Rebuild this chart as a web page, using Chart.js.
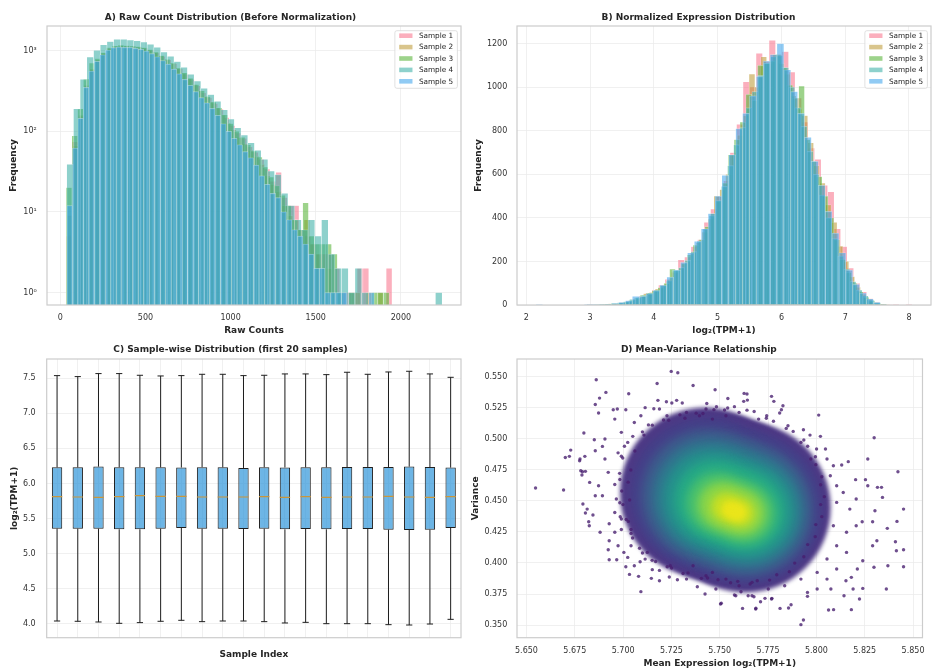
<!DOCTYPE html>
<html>
<head>
<meta charset="utf-8">
<script src="https://cdn.jsdelivr.net/npm/chart.js@4.4.0/dist/chart.umd.min.js"></script>
<style>
  html, body { margin: 0; padding: 0; background: #fff; width: 933px; height: 668px; overflow: hidden; }
  canvas { position: absolute; }
</style>
</head>
<body>
<canvas id="panelA" style="left:0;top:0" width="466" height="340"></canvas>
<canvas id="panelB" style="left:466px;top:0" width="467" height="340"></canvas>
<canvas id="panelC" style="left:0;top:335px" width="466" height="333"></canvas>
<canvas id="panelD" style="left:466px;top:335px" width="467" height="333"></canvas>
<script>
// --- Data ---
const sampleLabels = ['Sample 1', 'Sample 2', 'Sample 3', 'Sample 4', 'Sample 5'];
const sampleFill = ['rgba(247,113,137,0.56)', 'rgba(187,152,50,0.56)', 'rgba(80,177,49,0.56)',
                    'rgba(54,173,164,0.56)', 'rgba(59,163,236,0.56)'];

// A) raw counts, 56 bins per sample (bin start + width per sample)
const rawBinStart = [36, 40, 34, 38, 39];
const rawBinWidth = [34.14, 33.13, 33.89, 39.36, 32.23];
const rawCounts1 = [5,74,150,360,580,770,930,1070,1120,1150,1140,1150,1110,1080,1020,950,850,770,690,600,
  510,440,365,300,262,220,188,148,118,95,82,64,55,45,34,24,31,15,12,12,6,5,4,3,3,3,2,1,1,1,2,2,0,0,0,2];
const rawCounts2 = [9,66,158,372,590,765,925,1060,1130,1150,1140,1130,1110,1080,1020,950,860,770,690,600,
  525,450,380,320,272,232,196,160,126,104,85,70,58,49,39,28,22,18,12,9,8,6,8,4,3,2,2,1,1,0,0,1,0,1,0,1];
const rawCounts3 = [20,88,190,445,700,800,950,1090,1150,1170,1160,1140,1120,1090,1030,960,870,780,700,610,
  530,455,380,318,270,230,195,160,125,100,84,68,57,48,36,27,21,16,12,8,6,13,5,4,4,4,3,1,0,1,0,0,0,1,1,1];
const rawCounts4 = [39,190,440,830,1010,1180,1300,1380,1380,1350,1320,1280,1200,1100,960,850,730,620,510,420,
  340,285,235,185,142,110,90,72,58,45,32,29,17,12,8,6,8,5,8,3,2,2,1,2,1,0,0,0,0,0,0,0,0,0,0,1];
const rawCounts5 = [12,62,145,350,560,740,890,1020,1090,1110,1100,1100,1070,1040,990,920,840,755,680,590,
  515,440,372,310,262,225,192,158,124,100,82,68,56,47,38,28,22,17,15,10,8,6,5,4,3,2,2,1,1,1,1,0,0,0,0,1];
const rawXTicks = [0, 500, 1000, 1500, 2000];
const rawYTicks = [1, 10, 100, 1000];

// B) log2(TPM+1), 50 bins per sample
const normBinStart = [2.95, 3.10, 3.05, 2.85, 2.15];
const normBinWidth = [0.102, 0.092, 0.092, 0.096, 0.108];
const normCounts1 = [1,2,3,5,8,12,18,28,42,55,68,92,118,150,207,220,268,300,380,440,
  500,570,700,830,1025,1000,1155,1120,1215,1150,1163,1070,950,840,720,669,550,520,350,268,
  170,100,60,30,15,5,2,1,0,1];
const normCounts2 = [2,4,6,8,11,16,24,36,52,58,74,90,115,150,170,200,240,285,335,395,
  500,530,600,690,780,870,1060,1000,1140,1110,1150,1110,1060,960,900,870,745,640,560,460,
  380,270,200,130,82,48,26,12,5,2];
const normCounts3 = [2,3,5,8,10,15,22,32,45,55,66,80,100,165,160,190,230,275,300,360,
  420,480,560,690,760,840,967,940,1100,1110,1120,1150,1090,1010,950,1005,760,660,590,500,
  400,300,210,150,100,60,35,18,8,3];
const normCounts4 = [0,1,2,3,5,8,11,16,26,34,44,56,70,88,112,160,172,205,245,295,
  350,410,478,545,640,735,815,905,980,1055,1110,1140,1145,1090,1000,905,820,705,600,505,
  400,305,225,165,108,68,42,23,11,4];
const normCounts5 = [1,0,0,0,0,0,0,1,1,3,5,8,12,20,40,40,52,66,92,128,
  160,196,240,292,350,420,500,595,690,810,880,960,1050,1120,1150,1200,1080,980,880,770,
  660,550,430,330,240,160,95,55,28,12];
const normXTicks = [2, 3, 4, 5, 6, 7, 8];
const normYTicks = [0, 200, 400, 600, 800, 1000, 1200];

// C) box statistics for the first 20 samples
const boxIndex = [1,2,3,4,5,6,7,8,9,10,11,12,13,14,15,16,17,18,19,20];
const boxLow = [4.038,4.034,4.024,4.005,4.015,4.034,4.048,4.029,4.038,4.038,4.029,4.010,4.019,4.000,4.000,4.000,3.986,3.981,3.995,4.062];
const boxQ1 = [5.355,5.355,5.355,5.346,5.346,5.355,5.365,5.355,5.355,5.350,5.355,5.346,5.350,5.346,5.350,5.350,5.341,5.336,5.341,5.365];
const boxMedian = [5.812,5.807,5.802,5.812,5.826,5.816,5.816,5.807,5.807,5.807,5.812,5.802,5.812,5.802,5.807,5.807,5.816,5.807,5.802,5.812];
const boxQ3 = [6.230,6.230,6.240,6.232,6.232,6.230,6.228,6.232,6.230,6.221,6.232,6.228,6.230,6.230,6.235,6.235,6.235,6.240,6.235,6.226];
const boxHigh = [7.538,7.524,7.567,7.567,7.543,7.533,7.538,7.557,7.557,7.538,7.543,7.562,7.562,7.552,7.586,7.557,7.590,7.600,7.562,7.514];
const boxYTicks = [4.0, 4.5, 5.0, 5.5, 6.0, 6.5, 7.0, 7.5];

// D) mean vs variance: individual genes in the sparse rim
const mvPoints = [
  [5.7249,0.5543],[5.7283,0.5532],[5.6861,0.5476],[5.7176,0.5446],[5.7362,0.5430],[5.7476,0.5395],[5.6911,0.5374],
  [5.7029,0.5363],[5.6878,0.5328],[5.6856,0.5277],[5.6873,0.5208],[5.6949,0.5234],[5.6970,0.5240],[5.7014,0.5234],
  [5.7180,0.5310],[5.7224,0.5299],[5.7252,0.5288],[5.7277,0.5310],[5.7306,0.5288],[5.7114,0.5251],[5.7159,0.5242],
  [5.7188,0.5240],[5.6797,0.5047],[5.6851,0.4993],[5.6729,0.4909],[5.6701,0.4850],[5.6722,0.4859],[5.6777,0.4837],
  [5.6802,0.4859],[5.6781,0.4743],[5.6805,0.4738],[5.6827,0.4649],[5.6547,0.4604],[5.6692,0.4588],[5.6792,0.4475],
  [5.6814,0.4434],[5.6822,0.4332],[5.6825,0.4300],[5.6805,0.4402],[5.6844,0.4386],[5.6928,0.4316],[5.6928,0.4179],
  [5.6923,0.4107],[5.6928,0.4026],[5.6967,0.4026],[5.7004,0.4085],[5.7033,0.3908],[5.7080,0.3892],[5.7092,0.3769],
  [5.7088,0.4010],[5.7114,0.4031],[5.7151,0.3946],[5.7188,0.3940],[5.7146,0.3876],[5.7188,0.3857],[5.7239,0.3887],
  [5.7244,0.3978],[5.7281,0.3865],[5.7328,0.3870],[5.7384,0.3809],[5.7424,0.3750],[5.7480,0.3790],[5.7504,0.3669],
  [5.6856,0.4904],[5.6893,0.4939],[5.6906,0.4837],[5.6873,0.4622],[5.6893,0.4542],[5.6856,0.4542],[5.6881,0.4247],
  [5.6957,0.4247],[5.6906,0.4998],[5.6991,0.5052],[5.6957,0.5159],[5.7058,0.5132],[5.6923,0.4730],[5.6965,0.4515],
  [5.6957,0.4407],[5.6991,0.4354],[5.6974,0.4139],[5.7041,0.4139],[5.7024,0.4045],[5.7058,0.3978],[5.7125,0.4085],
  [5.7362,0.3978],[5.7429,0.3897],[5.7462,0.3924],[5.7092,0.5186],[5.7227,0.5186],[5.7328,0.5213],[5.7395,0.5186],
  [5.7429,0.5240],[5.7462,0.5159],[5.7007,0.4940],[5.6991,0.4860],[5.6983,0.4672],[5.6974,0.4887],[5.6957,0.4632],
  [5.6983,0.4485],[5.7016,0.4350],[5.6991,0.4270],[5.7041,0.4270],[5.6775,0.4823],[5.6790,0.4735],[5.6787,0.4708],
  [5.7014,0.3970],[5.7433,0.5285],[5.7483,0.5258],[5.7525,0.5232],[5.7626,0.5366],[5.7643,0.5312],[5.7542,0.5325],
  [5.7576,0.3742],[5.7610,0.3768],[5.7677,0.3728],[5.7711,0.3688],[5.7508,0.3675],[5.7618,0.3634],[5.7686,0.3629],
  [5.7812,0.3634],[5.7770,0.3715],
  [5.7641,0.5361],[5.7624,0.5302],[5.7768,0.5342],[5.7780,0.5302],[5.7827,0.5267],[5.7819,0.5234],[5.7810,0.5208],
  [5.7743,0.5186],[5.8012,0.5191],[5.7933,0.5073],[5.8021,0.5020],[5.8299,0.5009],[5.7967,0.5030],[5.8266,0.4837],
  [5.8165,0.4816],[5.8131,0.4789],[5.8422,0.4735],[5.8001,0.4918],[5.8047,0.4918],[5.8203,0.4671],[5.8254,0.4671],
  [5.8266,0.4622],[5.8316,0.4609],[5.8337,0.4609],[5.8342,0.4528],[5.8451,0.4434],[5.8417,0.4335],[5.8303,0.4421],
  [5.8291,0.4332],[5.8237,0.4332],[5.8367,0.4279],[5.8409,0.4171],[5.8451,0.4107],[5.8414,0.4099],[5.8313,0.4179],
  [5.8291,0.4139],[5.8298,0.3965],[5.8370,0.3978],[5.8451,0.3970],[5.8240,0.4018],[5.8212,0.3951],[5.8181,0.3884],
  [5.8240,0.3795],[5.8362,0.3790],[5.8223,0.3710],[5.8181,0.3624],[5.8063,0.3621],[5.8089,0.3624],[5.7933,0.3541],
  [5.7920,0.3503],[5.7869,0.3664],[5.7856,0.3637],[5.7768,0.3710],[5.7734,0.3715],[5.7687,0.3635],[5.7583,0.3736],
  [5.7647,0.3736],[5.7667,0.3736],[5.7954,0.3763],[5.8004,0.3790],[5.7954,0.3731],[5.8143,0.3736],[5.8075,0.3790],
  [5.8055,0.3870],[5.8153,0.3857],[5.8190,0.3790],
  [5.8088,0.4783],[5.8072,0.4703],[5.8139,0.4568],[5.8105,0.4488],[5.8173,0.4434],[5.8206,0.4515],[5.8156,0.4247],
  [5.8206,0.4300],[5.8105,0.4139],[5.8156,0.4085],[5.8055,0.4032],[5.8105,0.3951],[5.8004,0.3924],[5.7920,0.3870],
  [5.7836,0.3817],[5.7751,0.3790],[5.7667,0.3844],[5.7600,0.3817],[5.7532,0.3870],[5.8055,0.4837],[5.7971,0.4837],
  [5.7920,0.4971],[5.7853,0.5105],[5.7701,0.5159],[5.7600,0.5213],[5.7532,0.5186],[5.8105,0.4622],[5.8088,0.4300],
  // fringe of the dense cloud, left side
  [5.7024,0.4971],[5.7061,0.4902],[5.6998,0.4846],[5.7040,0.4749],[5.6982,0.4722],[5.7026,0.4651],[5.6993,0.4580],
  [5.7034,0.4507],[5.6999,0.4470],[5.6985,0.4372],[5.7027,0.4335],[5.7041,0.4238],[5.7049,0.4201],[5.7085,0.4118],
  [5.7100,0.4080],[5.7150,0.4021],[5.7168,0.4012],[5.7228,0.3969],[5.7251,0.3960],[5.7310,0.3915],[5.7336,0.3920],
  [5.7405,0.3876],[5.7437,0.3879],[5.7100,0.5056],[5.7131,0.5112],[5.7151,0.5110],[5.7209,0.5152],[5.7236,0.5150],
  [5.7294,0.5193],[5.7320,0.5166],[5.7378,0.5207],[5.7413,0.5204],[5.7470,0.5235],[5.7050,0.5020],[5.7108,0.5030],
  // fringe of the dense cloud, right side
  [5.7541,0.5248],[5.7576,0.5259],[5.7641,0.5231],[5.7678,0.5220],[5.7741,0.5166],[5.7778,0.5141],[5.7844,0.5084],
  [5.7880,0.5060],[5.7935,0.4990],[5.7955,0.4940],[5.7995,0.4856],[5.7997,0.4792],[5.8028,0.4695],[5.8022,0.4630],
  [5.8041,0.4534],[5.8022,0.4470],[5.8028,0.4373],[5.7997,0.4309],[5.7994,0.4212],[5.7955,0.4148],[5.7935,0.4050],
  [5.7888,0.3999],[5.7860,0.3930],[5.7795,0.3905],[5.7758,0.3862],[5.7694,0.3857],[5.7657,0.3830],[5.7593,0.3852],
  [5.7556,0.3841],[5.7491,0.3865]
];
// D) dense core, one group of centres per density level (outer -> inner)
const coreX = [
  [5.7424,5.7529,5.7634],[5.7429,5.7534,5.7639],[5.7439,5.7539,5.7639],[5.7449,5.7544,5.7639],[5.7458,5.7549,5.7640],
  [5.7473,5.7554,5.7635],[5.7488,5.7559,5.7630],[5.7507,5.7564,5.7621],[5.7526,5.7569,5.7612],[5.7550,5.7574,5.7598]
];
const coreY = [
  [0.4567,0.4507,0.4447],[0.4559,0.4499,0.4439],[0.4541,0.4483,0.4425],[0.4530,0.4475,0.4420],[0.4519,0.4467,0.4415],
  [0.4506,0.4459,0.4412],[0.4484,0.4443,0.4402],[0.4468,0.4435,0.4402],[0.4452,0.4427,0.4402],[0.4433,0.4419,0.4405]
];
const mvXTicks = [5.650, 5.675, 5.700, 5.725, 5.750, 5.775, 5.800, 5.825, 5.850];
const mvYTicks = [0.350, 0.375, 0.400, 0.425, 0.450, 0.475, 0.500, 0.525, 0.550];

// --- Styles ---
const coreColors = ['#4d3985','#453f88','#3d5a8c','#30758e','#25908c','#26a985','#48c06e','#86d44a','#c5df25','#eae51a'];
const coreRadius = [85, 76, 67, 58, 49, 40, 31, 23, 14, 8];
const coreBlur = [2, 3, 4, 4, 4, 4, 4, 4, 4, 3];
const GRID = '#ececec';
const INK = '#262626';
const TICK = '#333333';

Chart.defaults.font.family = '"DejaVu Sans", sans-serif';
Chart.defaults.font.size = 8;
Chart.defaults.color = TICK;
Chart.defaults.animation = false;

// frame round the plot area (spines)
const framePlugin = {
  id: 'frame',
  afterDatasetsDraw(chart) {
    const { ctx, chartArea: a } = chart;
    ctx.save();
    ctx.strokeStyle = '#cccccc';
    ctx.lineWidth = 1.2;
    ctx.strokeRect(a.left, a.top, a.right - a.left, a.bottom - a.top);
    ctx.restore();
  }
};

// legend drawn inside the upper right corner, like matplotlib's 'best'
const insideLegend = {
  id: 'insideLegend',
  afterDraw(chart) {
    const { ctx, chartArea } = chart;
    const sets = chart.data.datasets;
    ctx.save();
    ctx.font = '7.3px "DejaVu Sans"';
    const textW = Math.max(...sets.map(d => ctx.measureText(d.label).width));
    const w = 24 + textW + 4.2;
    const h = 57.6;
    const x0 = chartArea.right - 3.6 - w;
    const y0 = chartArea.top + 4.7;
    ctx.fillStyle = 'rgba(255,255,255,0.8)';
    ctx.strokeStyle = '#d8d8d8';
    ctx.lineWidth = 0.8;
    ctx.beginPath();
    ctx.roundRect(x0, y0, w, h, 2);
    ctx.fill();
    ctx.stroke();
    sets.forEach((d, i) => {
      const cy = y0 + 5 + i * 11.4;
      ctx.fillStyle = d.backgroundColor;
      ctx.fillRect(x0 + 4.3, cy - 2.3, 13.3, 4.6);
      ctx.fillStyle = INK;
      ctx.textBaseline = 'middle';
      ctx.fillText(d.label, x0 + 24, cy + 0.4);
    });
    ctx.restore();
  }
};

// soft edges for the density levels of panel D
const blurPlugin = {
  id: 'levelBlur',
  beforeDatasetDraw(chart, args) {
    const ds = chart.data.datasets[args.index];
    if (ds.blur) { chart.ctx.save(); chart.ctx.filter = 'blur(' + ds.blur + 'px)'; }
  },
  afterDatasetDraw(chart, args) {
    const ds = chart.data.datasets[args.index];
    if (ds.blur) chart.ctx.restore();
  }
};

function titleOpts(text, top, bottom) {
  return { display: true, text, color: INK, font: { size: 9, weight: 'bold', lineHeight: 1.2 }, padding: { top, bottom } };
}

function xAxis(o) {
  return {
    type: o.type || 'linear', min: o.min, max: o.max, offset: false,
    grid: { color: GRID, lineWidth: 0.8, drawTicks: false, offset: false },
    border: { display: false },
    ticks: { display: o.showTicks !== false, padding: 8.5, color: TICK, font: { size: 8 }, maxRotation: 0, autoSkip: false, callback: o.fmt },
    afterBuildTicks: s => { s.ticks = o.ticks.map(v => ({ value: v })); },
    afterFit: s => { s.height = o.height; },
    title: { display: true, text: o.title, color: INK, font: { size: 9, weight: 'bold', lineHeight: o.titleLH || 1.2 }, padding: { top: 0, bottom: o.titlePad } }
  };
}

function yAxis(o) {
  return {
    type: o.type || 'linear', min: o.min, max: o.max,
    grid: { color: GRID, lineWidth: 0.8, drawTicks: false },
    border: { display: false },
    ticks: { padding: o.pad, color: TICK, font: { size: 8 }, autoSkip: false, callback: o.fmt },
    afterBuildTicks: s => { s.ticks = o.ticks.map(v => ({ value: v })); },
    afterFit: s => { s.width = o.width; },
    title: { display: true, text: o.title, color: INK, font: { size: 9, weight: 'bold', lineHeight: 1.2 }, padding: { top: o.titlePad, bottom: 0 } }
  };
}

function histDatasets(starts, widths, counts) {
  return counts.map((c, i) => ({
    label: sampleLabels[i],
    data: c.map((n, k) => ({ x: starts[i] + widths[i] * (k + 0.5), y: n > 0 ? n : null })),
    xAxisID: i === 0 ? 'x' : 'x' + i,
    backgroundColor: sampleFill[i],
    borderColor: 'rgba(255,255,255,0.45)',
    borderWidth: 0.5,
    barPercentage: 1,
    categoryPercentage: 1,
    grouped: false,
    order: counts.length - i
  }));
}

function hiddenX(min, max) {
  return { type: 'linear', display: false, min, max, offset: false };
}

const superDigits = ['\u2070', '\u00b9', '\u00b2', '\u00b3', '\u2074'];

function baseOptions(padRight, title) {
  return {
    responsive: false, devicePixelRatio: 1,
    layout: { autoPadding: false, padding: { left: 0, right: padRight, top: 0, bottom: 0 } },
    plugins: { legend: { display: false }, tooltip: { enabled: false }, title }
  };
}

// --- Panel A ---
new Chart(document.getElementById('panelA'), {
  type: 'bar',
  data: { datasets: histDatasets(rawBinStart, rawBinWidth, [rawCounts1, rawCounts2, rawCounts3, rawCounts4, rawCounts5]) },
  options: {
    ...baseOptions(5, titleOpts('A) Raw Count Distribution (Before Normalization)', 11.9, 3.3)),
    scales: {
      x: xAxis({ min: -78, max: 2353, ticks: rawXTicks, height: 35, title: 'Raw Counts', titlePad: 3.6, fmt: v => String(v) }),
      x1: hiddenX(-78, 2353), x2: hiddenX(-78, 2353), x3: hiddenX(-78, 2353), x4: hiddenX(-78, 2353),
      y: yAxis({ type: 'logarithmic', min: 0.7, max: 2023, ticks: rawYTicks, width: 47, pad: 10.3, title: 'Frequency', titlePad: 8.6,
        fmt: v => '10' + superDigits[Math.round(Math.log10(v))] })
    }
  },
  plugins: [framePlugin, insideLegend]
});

// --- Panel B ---
new Chart(document.getElementById('panelB'), {
  type: 'bar',
  data: { datasets: histDatasets(normBinStart, normBinWidth, [normCounts1, normCounts2, normCounts3, normCounts4, normCounts5]) },
  options: {
    ...baseOptions(2, titleOpts('B) Normalized Expression Distribution', 11.9, 3.3)),
    scales: {
      x: xAxis({ min: 1.854, max: 8.345, ticks: normXTicks, height: 35, title: 'log\u2082(TPM+1)', titlePad: 3.6, fmt: v => String(v) }),
      x1: hiddenX(1.854, 8.345), x2: hiddenX(1.854, 8.345), x3: hiddenX(1.854, 8.345), x4: hiddenX(1.854, 8.345),
      y: yAxis({ min: 0, max: 1281, ticks: normYTicks, width: 51, pad: 9.7, title: 'Frequency', titlePad: 6.9, fmt: v => String(v) })
    }
  },
  plugins: [framePlugin, insideLegend]
});

// --- Panel C ---
const whiskerSegs = [], capSegs = [], medianSegs = [];
boxIndex.forEach((x, i) => {
  whiskerSegs.push({ x, y: boxLow[i] }, { x, y: boxQ1[i] }, { x, y: null }, { x, y: boxQ3[i] }, { x, y: boxHigh[i] }, { x, y: null });
  capSegs.push({ x: x - 0.15, y: boxLow[i] }, { x: x + 0.15, y: boxLow[i] }, { x, y: null },
               { x: x - 0.15, y: boxHigh[i] }, { x: x + 0.15, y: boxHigh[i] }, { x, y: null });
  medianSegs.push({ x: x - 0.25, y: boxMedian[i] }, { x: x + 0.25, y: boxMedian[i] }, { x, y: null });
});

new Chart(document.getElementById('panelC'), {
  type: 'bar',
  data: {
    datasets: [
      { type: 'line', data: medianSegs, borderColor: '#c9963c', borderWidth: 1.2, pointRadius: 0, order: 0 },
      { type: 'bar', data: boxIndex.map((x, i) => ({ x, y: [boxQ1[i], boxQ3[i]] })),
        backgroundColor: 'rgba(52,152,219,0.72)', borderColor: '#1e1e1e', borderWidth: 1, borderSkipped: false,
        barPercentage: 0.5, categoryPercentage: 1, order: 1 },
      { type: 'line', data: whiskerSegs, borderColor: '#1e1e1e', borderWidth: 1, pointRadius: 0, order: 2 },
      { type: 'line', data: capSegs, borderColor: '#1e1e1e', borderWidth: 1, pointRadius: 0, order: 2 }
    ]
  },
  options: {
    ...baseOptions(5, titleOpts('C) Sample-wise Distribution (first 20 samples)', 9.6, 3.6)),
    scales: {
      x: xAxis({ min: 0.5, max: 20.5, ticks: boxIndex, height: 30.3, title: 'Sample Index', titlePad: 7.6, showTicks: false }),
      y: yAxis({ min: 3.80, max: 7.775, ticks: boxYTicks, width: 46.7, pad: 11, title: 'log\u2082(TPM+1)', titlePad: 9.6, fmt: v => v.toFixed(1) })
    }
  },
  plugins: [framePlugin]
});

// --- Panel D ---
const coreSets = coreX.map((xs, l) => ({
  data: xs.map((x, i) => ({ x, y: coreY[l][i] })),
  pointRadius: coreRadius[l],
  backgroundColor: coreColors[l],
  borderWidth: 0,
  blur: coreBlur[l],
  order: 20 - l
}));

new Chart(document.getElementById('panelD'), {
  type: 'scatter',
  data: {
    datasets: [
      { data: mvPoints.map(p => ({ x: p[0], y: p[1] })), pointRadius: 1.7,
        backgroundColor: 'rgba(70,30,110,0.78)', borderWidth: 0, order: 0 },
      ...coreSets
    ]
  },
  options: {
    ...baseOptions(1.3, titleOpts('D) Mean-Variance Relationship', 9.6, 3.6)),
    scales: {
      x: xAxis({ min: 5.6451, max: 5.8549, ticks: mvXTicks, height: 30.3, title: 'Mean Expression log\u2082(TPM+1)', titlePad: 0.2, titleLH: 1.0, fmt: v => v.toFixed(3) }),
      y: yAxis({ min: 0.3398, max: 0.5643, ticks: mvYTicks, width: 51, pad: 9.7, title: 'Variance', titlePad: 3.9, fmt: v => v.toFixed(3) })
    }
  },
  plugins: [framePlugin, blurPlugin]
});
</script>
</body>
</html>
